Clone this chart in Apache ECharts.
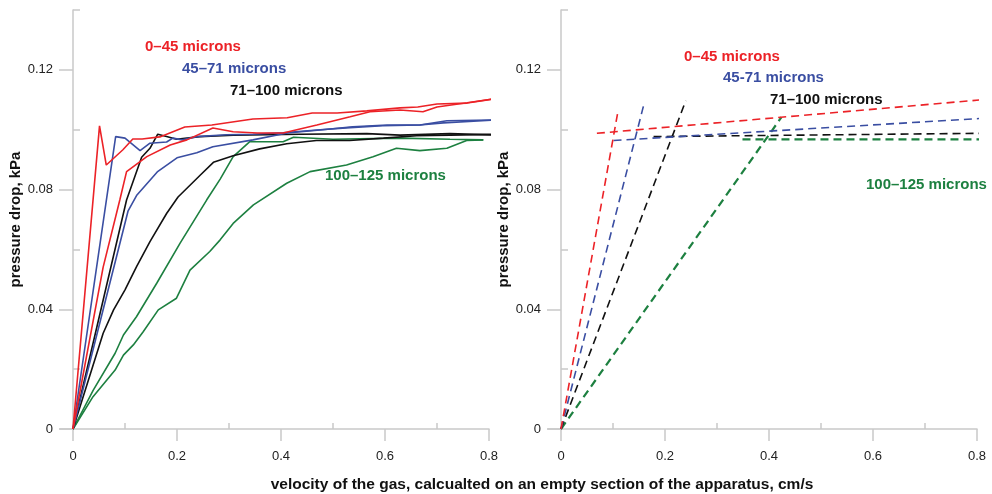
<!DOCTYPE html>
<html>
<head>
<meta charset="utf-8">
<script src="https://cdn.jsdelivr.net/npm/echarts@6/dist/echarts.min.js"></script>
<style>
html, body { margin: 0; padding: 0; background: #fff; }
#chart { width: 992px; height: 494px; }
</style>
</head>
<body>
<div id="chart"></div>
<script>
// tick labels
const xTicks = [0, 0.2, 0.4, 0.6, 0.8]
const xMinorTicks = [0.1, 0.3, 0.5, 0.7]
const yTicks = [0, 0.04, 0.08, 0.12]
const yMinorTicks = [0.02, 0.06, 0.1, 0.14]

// size fractions
const fractions = ['0–45 microns', '45–71 microns', '71–100 microns', '100–125 microns']
const fractionsRight = ['0–45 microns', '45-71 microns', '71–100 microns', '100–125 microns']
const colors = ['#ec2227', '#3a4ea2', '#111111', '#1d8040']

// measured curves, left panel: [velocity, pressure drop]
const red1 = [[0,0],[0.051,0.1013],[0.064,0.0882],[0.096,0.0933],[0.115,0.0969],[0.133,0.0969],[0.167,0.0976],
    [0.215,0.1009],[0.267,0.1016],[0.346,0.1036],[0.412,0.104],[0.46,0.1056],[0.508,0.1056],[0.565,0.1063],
    [0.629,0.1073],[0.663,0.1076],[0.7,0.1086],[0.758,0.1089],[0.821,0.1106]]
const red2 = [[0,0],[0.058,0.0541],[0.09,0.0765],[0.103,0.086],[0.142,0.091],[0.187,0.0949],[0.219,0.0966],
    [0.269,0.1006],[0.308,0.0993],[0.354,0.0989],[0.404,0.0989],[0.469,0.1016],[0.533,0.1043],[0.571,0.106],
    [0.629,0.1066],[0.673,0.106],[0.7,0.1076],[0.758,0.109],[0.821,0.1106]]
const blue1 = [[0,0],[0.082,0.0977],[0.1,0.0972],[0.129,0.093],[0.148,0.0955],[0.18,0.0959],[0.192,0.0972],
    [0.21,0.0966],[0.238,0.0977],[0.296,0.0983],[0.346,0.0985],[0.404,0.099],[0.469,0.0999],[0.533,0.1007],
    [0.596,0.1013],[0.667,0.1016],[0.712,0.1023],[0.821,0.1033]]
const blue2 = [[0,0],[0.106,0.0729],[0.123,0.0782],[0.162,0.0859],[0.2,0.0906],[0.238,0.0923],[0.269,0.0943],
    [0.346,0.0966],[0.412,0.0989],[0.475,0.0999],[0.538,0.101],[0.604,0.1016],[0.667,0.1016],[0.719,0.103],
    [0.821,0.1033]]
const black1 = [[0,0],[0.103,0.0765],[0.132,0.0908],[0.148,0.0938],[0.163,0.0985],[0.18,0.0977],[0.199,0.0968],
    [0.244,0.0977],[0.308,0.0982],[0.436,0.0985],[0.565,0.0987],[0.629,0.0982],[0.725,0.0987],[0.821,0.0982]]
const black2 = [[0,0],[0.058,0.032],[0.078,0.0398],[0.1,0.0465],[0.122,0.0542],[0.148,0.0626],[0.18,0.072],
    [0.202,0.0775],[0.244,0.0847],[0.27,0.0891],[0.308,0.0913],[0.359,0.0936],[0.411,0.0953],[0.468,0.0964],
    [0.532,0.0964],[0.597,0.0972],[0.661,0.098],[0.725,0.0982],[0.821,0.0985]]
const green1 = [[0,0],[0.039,0.013],[0.081,0.0253],[0.097,0.0314],[0.122,0.0375],[0.161,0.0487],[0.206,0.0621],
    [0.257,0.0765],[0.283,0.0835],[0.308,0.091],[0.34,0.096],[0.404,0.096],[0.424,0.0975],[0.5,0.0968],
    [0.629,0.0972],[0.725,0.0968],[0.789,0.0966]]
const green2 = [[0,0],[0.0385,0.0108],[0.081,0.0197],[0.097,0.0247],[0.116,0.0281],[0.135,0.0325],[0.164,0.0398],
    [0.199,0.0437],[0.225,0.0531],[0.263,0.0593],[0.283,0.0632],[0.308,0.0687],[0.347,0.0749],[0.411,0.0821],
    [0.456,0.086],[0.526,0.0882],[0.577,0.091],[0.622,0.0938],[0.667,0.093],[0.719,0.0938],[0.757,0.0964],
    [0.789,0.0966]]

// fitted lines, right panel
const redRise = [[0,0],[0.11,0.1066]]
const redFlat = [[0.069,0.0988],[0.822,0.1102]]
const blueRise = [[0,0],[0.16,0.1089]]
const blueFlat = [[0.101,0.0964],[0.82,0.1039]]
const blackRise = [[0,0],[0.24,0.1097]]
const blackFlat = [[0.178,0.0977],[0.81,0.0988]]
const greenRise = [[0,0],[0.424,0.1042]]
const greenFlat = [[0.349,0.0968],[0.82,0.0968]]

const FONT = '"Liberation Sans", Arial, sans-serif'
const AXIS_GRAY = '#c9c9c9'
const X_MIN = -0.025   // axis line sticks out a little left of the y axis

function xAxisDef(idx, minor){
    return {
        type: 'value', gridIndex: idx, min: X_MIN, max: 0.8,
        axisLine: {show: !minor, onZero: true, lineStyle: {color: AXIS_GRAY, width: 1.5}},
        axisTick: {length: minor ? 6 : 12, customValues: minor ? xMinorTicks : xTicks,
            lineStyle: {color: AXIS_GRAY, width: 1.5}},
        axisLabel: {show: !minor, customValues: xTicks, formatter: v => String(+v.toFixed(2)),
            margin: 21, color: '#222', fontSize: 13, fontFamily: FONT},
        splitLine: {show: false}
    }
}

// labels and name are placed from the grid edge, line and ticks sit on x = 0
function yAxisDef(idx, minor, gap){
    return {
        type: 'value', gridIndex: idx, min: 0, max: 0.14,
        name: minor ? '' : 'pressure drop, kPa', nameLocation: 'middle', nameGap: gap,
        nameTextStyle: {fontWeight: 'bold', fontSize: 15, color: '#111', fontFamily: FONT},
        axisLine: {show: !minor, onZero: true, lineStyle: {color: AXIS_GRAY, width: 1.5}},
        axisTick: {show: true, length: minor ? 7 : 14, customValues: minor ? yMinorTicks : yTicks,
            lineStyle: {color: AXIS_GRAY, width: 1.5}},
        axisLabel: {show: !minor, customValues: yTicks, formatter: v => String(+v.toFixed(2)),
            margin: 7, color: '#222', fontSize: 13, fontFamily: FONT},
        splitLine: {show: false}
    }
}

function curve(data, color){
    return {
        type: 'line', xAxisIndex: 0, yAxisIndex: 0, data: data, showSymbol: false, clip: false,
        lineStyle: {color: color, width: 1.6}, silent: true
    }
}

function fit(data, color, w){
    return {
        type: 'line', xAxisIndex: 1, yAxisIndex: 1, data: data, showSymbol: false, clip: false,
        lineStyle: {color: color, width: w, type: [8, 5]}, silent: true
    }
}

function label(text, x, y, color){
    return {
        type: 'text', left: x, top: y - 9,
        style: {text: text, fill: color, font: 'bold 15px ' + FONT}
    }
}

const chart = echarts.init(document.getElementById('chart'), null, {renderer: 'canvas'})
chart.setOption({
    animation: false,
    backgroundColor: '#fff',
    grid: [
        {left: 60, top: 10, width: 429, height: 419, outerBoundsMode: 'none'},
        {left: 548, top: 10, width: 429, height: 419, outerBoundsMode: 'none'}
    ],
    xAxis: [xAxisDef(0, false), xAxisDef(1, false), xAxisDef(0, true), xAxisDef(1, true)],
    yAxis: [yAxisDef(0, false, 31), yAxisDef(1, false, 37), yAxisDef(0, true, 0), yAxisDef(1, true, 0)],
    series: [
        curve(green2, colors[3]), curve(green1, colors[3]),
        curve(black2, colors[2]), curve(black1, colors[2]),
        curve(blue2, colors[1]), curve(blue1, colors[1]),
        curve(red2, colors[0]), curve(red1, colors[0]),
        fit(greenRise, colors[3], 2.2), fit(greenFlat, colors[3], 2.2),
        fit(blackRise, colors[2], 1.6), fit(blackFlat, colors[2], 1.6),
        fit(blueRise, colors[1], 1.6), fit(blueFlat, colors[1], 1.6),
        fit(redRise, colors[0], 1.6), fit(redFlat, colors[0], 1.6)
    ],
    graphic: [
        label(fractions[0], 145, 48, colors[0]),
        label(fractions[1], 182, 70, colors[1]),
        label(fractions[2], 230, 92, colors[2]),
        label(fractions[3], 325, 177, colors[3]),
        label(fractionsRight[0], 684, 58, colors[0]),
        label(fractionsRight[1], 723, 79, colors[1]),
        label(fractionsRight[2], 770, 101, colors[2]),
        label(fractionsRight[3], 866, 186, colors[3]),
        {
            type: 'text', x: 542, y: 485,
            style: {
                text: 'velocity of the gas, calcualted on an empty section of the apparatus, cm/s',
                fill: '#111', font: 'bold 15.5px ' + FONT, textAlign: 'center', textVerticalAlign: 'middle'
            }
        }
    ]
})
</script>
</body>
</html>
